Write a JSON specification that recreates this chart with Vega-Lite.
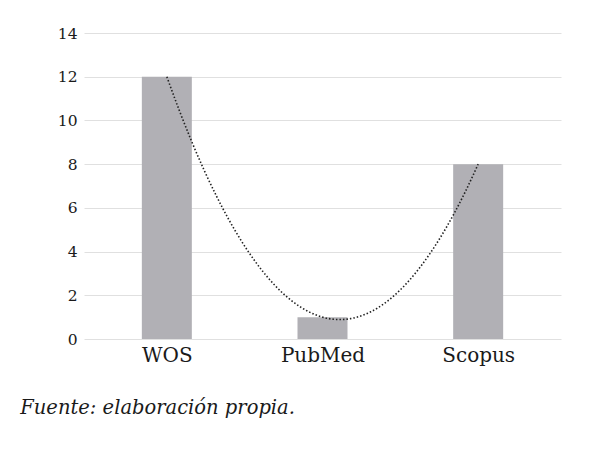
{
  "$schema": "https://vega.github.io/schema/vega-lite/v6.json",
  "autosize": "none",
  "width": 477,
  "height": 306,
  "padding": {"left": 84, "top": 33, "right": 39, "bottom": 120},
  "background": "white",
  "config": {"view": {"stroke": null}, "font": "DejaVu Serif"},
  "title": {
    "text": "Fuente: elaboración propia.",
    "orient": "bottom",
    "anchor": "start",
    "frame": "bounds",
    "dx": -37,
    "offset": 34,
    "font": "DejaVu Serif",
    "fontStyle": "italic",
    "fontWeight": "normal",
    "fontSize": 19.5,
    "color": "#1a1a1a"
  },
  "data": {
    "values": [
      {"idx": 0, "db": "WOS", "value": 12},
      {"idx": 1, "db": "PubMed", "value": 1},
      {"idx": 2, "db": "Scopus", "value": 8}
    ]
  },
  "layer": [
    {
      "mark": {"type": "bar", "size": 50, "color": "#b1b0b5"},
      "encoding": {
        "x": {
          "field": "idx",
          "type": "quantitative",
          "scale": {"domain": [-0.5, 2.5], "nice": false, "zero": false},
          "axis": {
            "title": null,
            "values": [0, 1, 2],
            "labelExpr": "['WOS','PubMed','Scopus'][datum.value]",
            "grid": false,
            "domain": false,
            "ticks": false,
            "labelFontSize": 20,
            "labelColor": "#1a1a1a",
            "labelPadding": 6,
            "labelFont": "DejaVu Serif"
          }
        },
        "y": {
          "field": "value",
          "type": "quantitative",
          "scale": {"domain": [0, 14], "nice": false},
          "axis": {
            "title": null,
            "values": [0, 2, 4, 6, 8, 10, 12, 14],
            "domain": false,
            "ticks": false,
            "gridColor": "#e0e0e0",
            "gridWidth": 1,
            "labelFontSize": 15.5,
            "labelColor": "#1a1a1a",
            "labelPadding": 7,
            "labelFont": "DejaVu Serif"
          }
        }
      }
    },
    {
      "transform": [
        {"regression": "value", "on": "idx", "method": "poly", "order": 2}
      ],
      "mark": {"type": "line", "color": "#222", "strokeWidth": 1.6, "strokeDash": [1.5, 2], "interpolate": "monotone"},
      "encoding": {
        "x": {"field": "idx", "type": "quantitative"},
        "y": {"field": "value", "type": "quantitative"}
      }
    }
  ]
}
